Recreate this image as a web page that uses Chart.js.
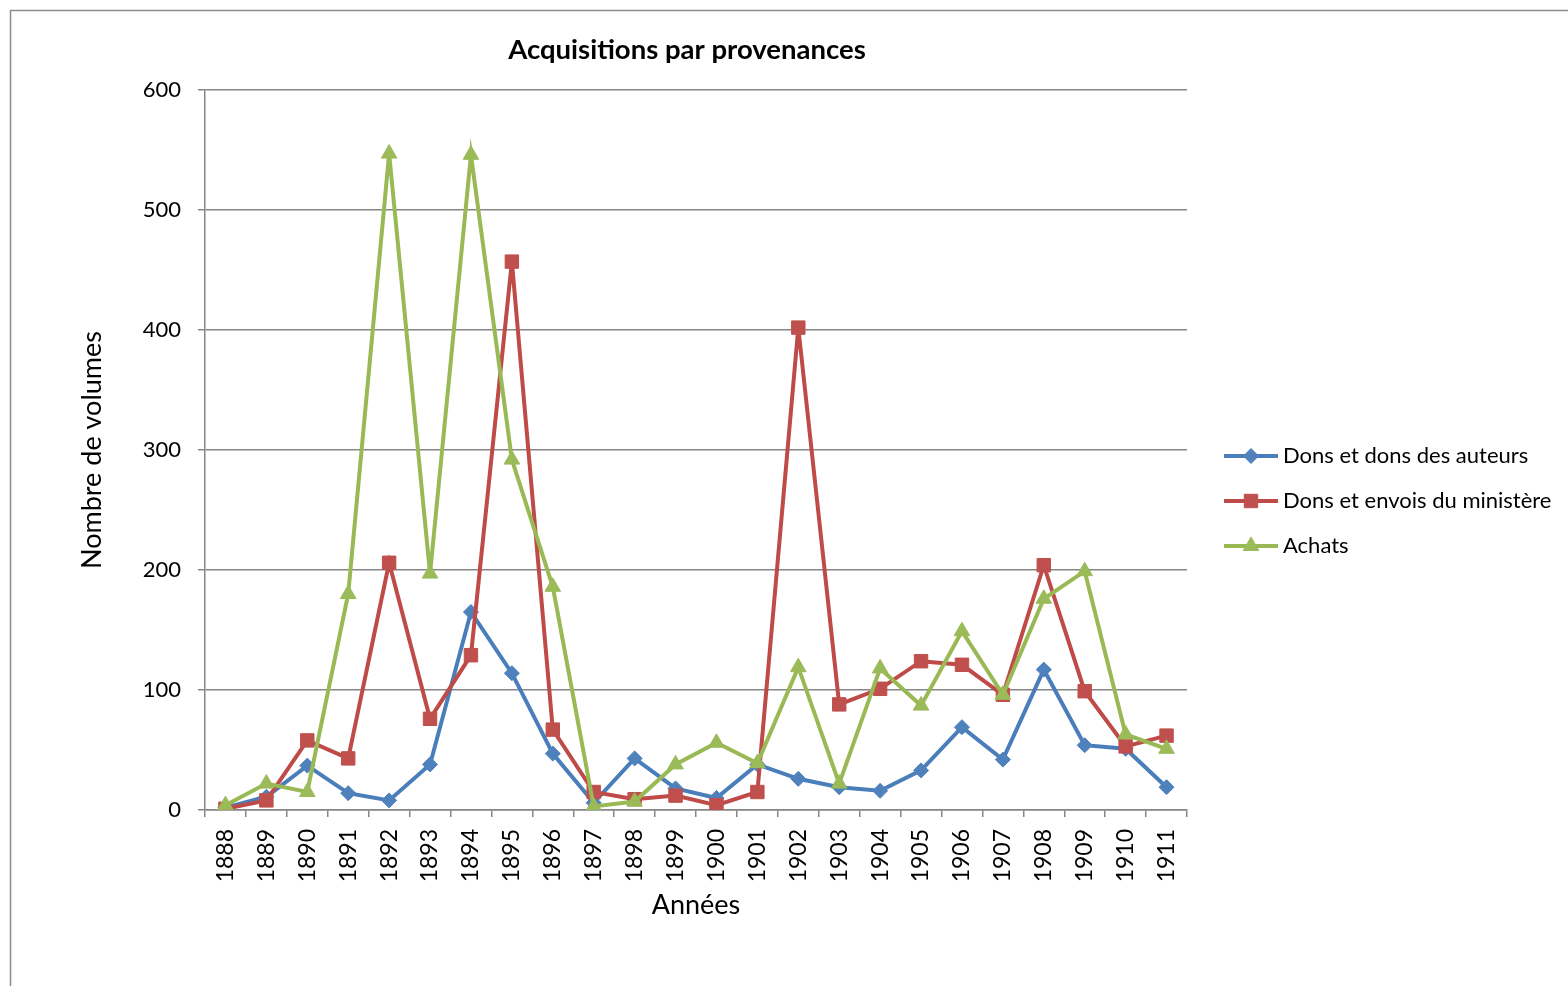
<!DOCTYPE html>
<html>
<head>
<meta charset="utf-8">
<script src="https://cdn.jsdelivr.net/npm/chart.js@4.4.1/dist/chart.umd.min.js"></script>
<style>
  html, body { margin: 0; padding: 0; background: #fff; }
  #wrap { width: 1568px; height: 986px; position: relative; }
</style>
</head>
<body>
<div id="wrap"><canvas id="acqChart" width="1568" height="986"></canvas></div>
<script>
const years = ['1888', '1889', '1890', '1891', '1892', '1893', '1894', '1895', '1896', '1897', '1898', '1899',
  '1900', '1901', '1902', '1903', '1904', '1905', '1906', '1907', '1908', '1909', '1910', '1911'];

const donsAuteurs = [2, 11, 37, 14, 8, 38, 165, 114, 47, 6, 43, 18, 10, 38, 26, 19, 16, 33, 69, 42, 117, 54, 51, 19];
const donsMinistere = [1, 8, 58, 43, 206, 76, 129, 457, 67, 15, 9, 12, 4, 15, 402, 88, 101, 124, 121, 96, 204, 99, 53, 62];
const achats = [4, 22, 15, 180, 547, 197, 546, 292, 186, 3, 7, 38, 56, 39, 119, 22, 118, 87, 149, 96, 176, 199, 63, 51];

const yTicks = [0, 100, 200, 300, 400, 500, 600];

const FONT = 'Lato, Calibri, sans-serif';
const GRID = '#868686';

(function () {
  const canvas = document.getElementById('acqChart');
  const ctx = canvas.getContext('2d');

  // white background + outer frame, like the spreadsheet chart box
  const framePlugin = {
    id: 'frame',
    beforeDraw(chart) {
      const c = chart.ctx;
      c.save();
      c.fillStyle = '#fff';
      c.fillRect(0, 0, chart.width, chart.height);
      c.strokeStyle = '#8c8c8c';
      c.lineWidth = 1.5;
      c.strokeRect(10.5, 10.5, 1700, 1100);
      c.restore();
    },
  };

  // title centred on the plot area rather than the canvas
  const titlePlugin = {
    id: 'plotTitle',
    afterDraw(chart) {
      const c = chart.ctx;
      c.save();
      c.font = 'bold 27.5px ' + FONT;
      c.fillStyle = '#000';
      c.textAlign = 'center';
      c.textBaseline = 'middle';
      c.fillText('Acquisitions par provenances', 687, 50);
      c.restore();
    },
  };

  // line + marker legend on the right
  const legendPlugin = {
    id: 'lineLegend',
    afterDraw(chart) {
      const c = chart.ctx;
      const x0 = 1224, x1 = 1278;
      const ys = [456, 501, 546];
      chart.data.datasets.forEach((ds, i) => {
        const y = ys[i];
        c.save();
        c.strokeStyle = ds.borderColor;
        c.lineWidth = ds.borderWidth;
        c.beginPath();
        c.moveTo(x0, y);
        c.lineTo(x1, y);
        c.stroke();
        c.fillStyle = ds.pointBackgroundColor;
        c.strokeStyle = ds.pointBorderColor;
        c.lineWidth = 1;
        Chart.helpers.drawPoint(c, {
          pointStyle: ds.pointStyle,
          radius: ds.pointRadius,
          borderWidth: 1,
        }, (x0 + x1) / 2, y);
        c.font = '22px ' + FONT;
        c.fillStyle = '#000';
        c.textAlign = 'left';
        c.textBaseline = 'middle';
        c.fillText(ds.label, 1283, y);
        c.restore();
      });
    },
  };

  const mk = (label, data, line, fill, style, r, order) => ({
    label,
    data,
    borderColor: line,
    borderWidth: 4,
    pointStyle: style,
    pointRadius: r,
    pointHoverRadius: r,
    pointBackgroundColor: fill,
    pointBorderColor: fill,
    pointBorderWidth: 1,
    tension: 0,
    fill: false,
    order,
  });

  new Chart(ctx, {
    type: 'line',
    data: {
      labels: years,
      datasets: [
        mk('Dons et dons des auteurs', donsAuteurs, '#4A7EBB', '#4F81BD', 'rectRot', 7.5, 2),
        mk('Dons et envois du ministère', donsMinistere, '#BE4B48', '#C0504D', 'rect', 9.5, 1),
        mk('Achats', achats, '#98B954', '#9BBB59', 'triangle', 9, 0),
      ],
    },
    options: {
      responsive: false,
      animation: false,
      devicePixelRatio: 1,
      layout: { padding: { top: 90, left: 0, right: 381, bottom: 0 } },
      plugins: {
        legend: { display: false },
        title: { display: false },
        tooltip: { enabled: false },
      },
      scales: {
        x: {
          type: 'category',
          offset: true,
          afterFit: (scale) => { scale.height = 176; },
          grid: {
            offset: true,
            drawOnChartArea: false,
            drawTicks: true,
            tickLength: 7,
            color: GRID,
            lineWidth: 1.5,
          },
          border: { color: GRID, width: 1.5 },
          ticks: {
            autoSkip: false,
            minRotation: 90,
            maxRotation: 90,
            padding: 12,
            color: '#000',
            font: { family: FONT, size: 23 },
          },
          title: {
            display: true,
            text: 'Années',
            color: '#000',
            font: { family: FONT, size: 27 },
            padding: { top: 0, bottom: 64.8 },
          },
        },
        y: {
          min: 0,
          max: 600,
          afterFit: (scale) => { scale.width = 205; },
          afterBuildTicks: (scale) => { scale.ticks = yTicks.map((v) => ({ value: v })); },
          grid: {
            color: GRID,
            tickLength: 7,
            lineWidth: 1.5,
          },
          border: { color: GRID, width: 1.5 },
          ticks: {
            padding: 17,
            color: '#000',
            font: { family: FONT, size: 22 },
          },
          title: {
            display: true,
            text: 'Nombre de volumes',
            color: '#000',
            font: { family: FONT, size: 27 },
            padding: { top: 75.8, bottom: 0 },
          },
        },
      },
    },
    plugins: [framePlugin, titlePlugin, legendPlugin],
  });
})();
</script>
</body>
</html>
